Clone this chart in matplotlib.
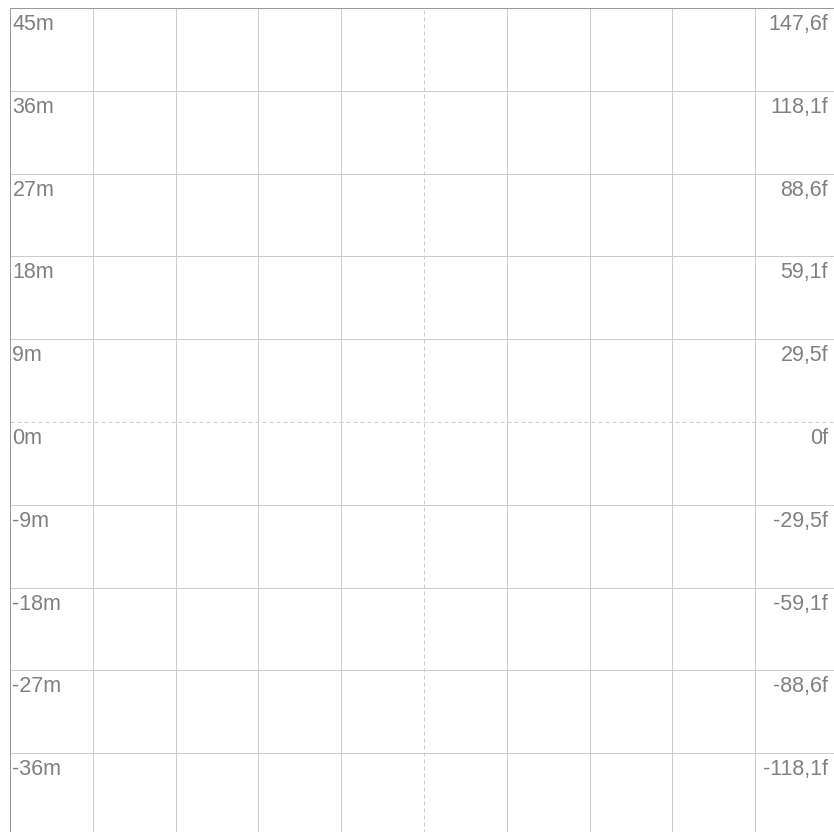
"""Depth grid with metre labels on the left and feet labels on the right."""

import matplotlib

matplotlib.use("Agg")
import matplotlib.pyplot as plt

METRE_TICKS = [45, 36, 27, 18, 9, 0, -9, -18, -27, -36]
FEET_VALUES = [147.6, 118.1, 88.6, 59.1, 29.5, 0, -29.5, -59.1, -88.6, -118.1]
X_TICKS = [-5, -4, -3, -2, -1, 0, 1, 2, 3, 4]

W_PX, H_PX = 834, 832
DPI = 100
GRID_COLOR = "#cccccc"
AXIS_COLOR = "#999999"
TEXT_COLOR = "#808080"
LW = 0.72


def _feet_label(value: float) -> str:
    if value == 0:
        return "0f"
    return f"{value:.1f}".replace(".", ",") + "f"


fig = plt.figure(figsize=(W_PX / DPI, H_PX / DPI), dpi=DPI)
# The plot area is larger than the canvas: right and bottom edges are cut off.
left_px, top_px, size_px = 10, 8, 828
ax = fig.add_axes([
    left_px / W_PX,
    1 - (top_px + size_px) / H_PX,
    size_px / W_PX,
    size_px / H_PX,
])
ax.set_xlim(-5, 5)
ax.set_ylim(-45, 45)
ax.set_xticks([])
ax.set_yticks([])
for side in ("right", "bottom"):
    ax.spines[side].set_visible(False)
for side in ("left", "top"):
    ax.spines[side].set_color(AXIS_COLOR)
    ax.spines[side].set_linewidth(LW)

for y in METRE_TICKS:
    if y == 45:
        continue
    style = (0, (4, 3)) if y == 0 else "-"
    ax.axhline(y, color=GRID_COLOR, linewidth=LW, linestyle=style, zorder=1)
for x in X_TICKS:
    if x == -5:
        continue
    style = (0, (4, 3)) if x == 0 else "-"
    ax.axvline(x, color=GRID_COLOR, linewidth=LW, linestyle=style, zorder=1)

font = dict(family=["Liberation Sans", "DejaVu Sans"], fontsize=15.5, color=TEXT_COLOR)
for metres, feet in zip(METRE_TICKS, FEET_VALUES):
    ax.annotate(
        f"{metres}m",
        xy=(-5, metres),
        xytext=(2.5, -6),
        textcoords="offset pixels",
        ha="left",
        va="top",
        **font,
    )
    ax.annotate(
        _feet_label(feet),
        xy=(828 / W_PX, metres),
        xycoords=("figure fraction", "data"),
        xytext=(0, -6),
        textcoords="offset pixels",
        ha="right",
        va="top",
        **font,
    )

fig.savefig("out.png", dpi=DPI)
